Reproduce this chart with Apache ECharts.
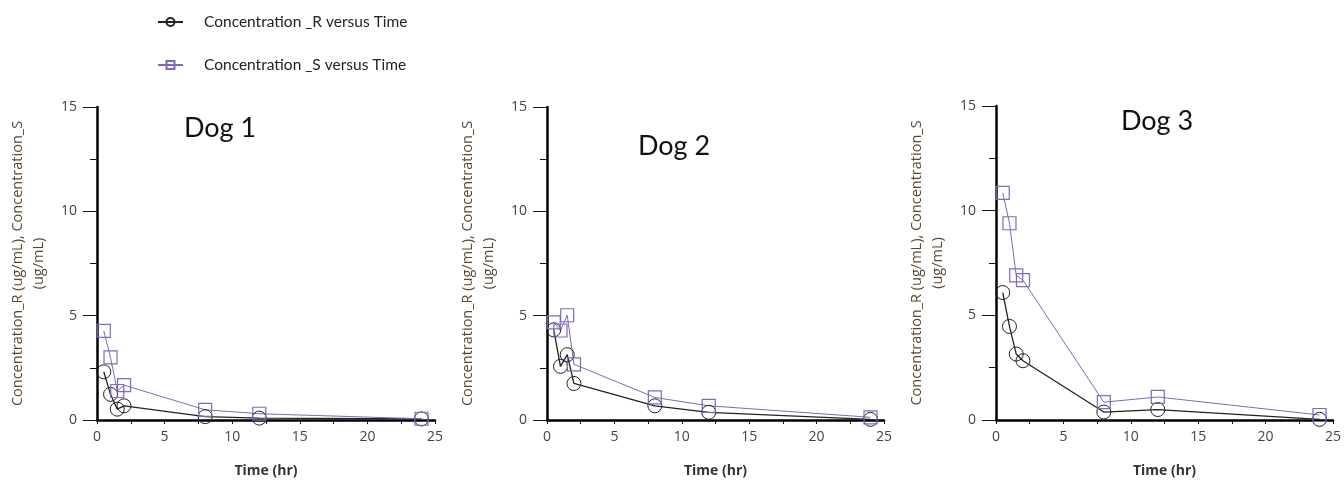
<!DOCTYPE html>
<html>
<head>
<meta charset="utf-8">
<script src="https://cdn.jsdelivr.net/npm/echarts@6/dist/echarts.min.js"></script>
<style>
  html, body { margin: 0; padding: 0; background: #fff; }
  #chart { width: 1344px; height: 483px; }
</style>
</head>
<body>
<div id="chart"></div>
<script>
// sampling times (hr)
const times = [0.5, 1, 1.5, 2, 8, 12, 24];

// concentrations (ug/mL)
const dog1R = [2.31, 1.23, 0.52, 0.68, 0.16, 0.09, 0.05];
const dog1S = [4.27, 3.0, 1.39, 1.67, 0.49, 0.3, 0.06];
const dog2R = [4.32, 2.57, 3.13, 1.75, 0.68, 0.37, 0.03];
const dog2S = [4.68, 4.29, 5.02, 2.67, 1.08, 0.68, 0.13];
const dog3R = [6.09, 4.47, 3.15, 2.83, 0.38, 0.5, 0.03];
const dog3S = [10.85, 9.4, 6.91, 6.68, 0.85, 1.1, 0.24];

const dogTitles = ["Dog 1", "Dog 2", "Dog 3"];
const seriesNames = ["Concentration _R versus Time", "Concentration _S versus Time"];
const yTicks = [0, 5, 10, 15];
const xTicks = [0, 5, 10, 15, 20, 25];

const colorR = "#222222";
const colorS = "#8068bd";
const axisFont = "'Open Sans', sans-serif";

// pixel boxes of the three plot areas
const grids = [
    { left: 97, top: 107, width: 338, height: 317 },
    { left: 547, top: 107, width: 337, height: 316 },
    { left: 996, top: 106, width: 337, height: 318 },
];
const titlePos = [
    { left: 184, top: 115 },
    { left: 638, top: 133 },
    { left: 1121, top: 108 },
];

const pairs = (xs, ys) => xs.map((x, i) => [x, ys[i]]);
const dogData = [
    [dog1R, dog1S],
    [dog2R, dog2S],
    [dog3R, dog3S],
];

const xAxes = grids.map((g, i) => ({
    type: "value",
    gridIndex: i,
    min: xTicks[0],
    max: xTicks[xTicks.length - 1],
    interval: 5,
    name: "Time (hr)",
    nameLocation: "middle",
    nameGap: 44,
    nameTextStyle: { fontFamily: axisFont, fontSize: 14, fontWeight: "bold", color: "#333" },
    axisLine: { lineStyle: { color: "#000", width: 2.5 } },
    axisTick: { length: 4, lineStyle: { color: "#111", width: 1 } },
    minorTick: { show: true, splitNumber: 2, length: 4, lineStyle: { color: "#111", width: 1 } },
    axisLabel: { fontFamily: axisFont, fontSize: 14, color: "#444", margin: 10 },
    splitLine: { show: false },
}));

const yAxes = grids.map((g, i) => ({
    type: "value",
    gridIndex: i,
    min: yTicks[0],
    max: yTicks[yTicks.length - 1],
    interval: 5,
    name: "Concentration_R (ug/mL), Concentration_S\n(ug/mL)",
    nameLocation: "middle",
    nameGap: 48,
    nameTextStyle: { fontFamily: axisFont, fontSize: 14.5, lineHeight: 21, color: "#5a4632", align: "center" },
    axisLine: { show: true, lineStyle: { color: "#000", width: 2.5 } },
    axisTick: { show: true, length: 14, lineStyle: { color: "#111", width: 1 } },
    minorTick: { show: true, splitNumber: 2, length: 7, lineStyle: { color: "#111", width: 1 } },
    axisLabel: { fontFamily: axisFont, fontSize: 14, color: "#444", margin: 20 },
    splitLine: { show: false },
}));

const series = [];
dogData.forEach((d, i) => {
    series.push({
        name: seriesNames[0],
        type: "line",
        xAxisIndex: i,
        yAxisIndex: i,
        data: pairs(times, d[0]),
        symbol: "circle",
        symbolSize: 14,
        lineStyle: { color: colorR, width: 1.3 },
        itemStyle: { color: "rgba(0,0,0,0)", borderColor: colorR, borderWidth: 1 },
    });
    series.push({
        name: seriesNames[1],
        type: "line",
        xAxisIndex: i,
        yAxisIndex: i,
        data: pairs(times, d[1]),
        symbol: "rect",
        symbolSize: 13,
        lineStyle: { color: colorS, width: 1 },
        itemStyle: { color: "rgba(0,0,0,0)", borderColor: colorS, borderWidth: 1.2 },
    });
});

const legendBase = {
    left: 152,
    orient: "vertical",
    itemWidth: 25,
    itemHeight: 10,
    selectedMode: false,
    textStyle: { fontFamily: "Lato, sans-serif", fontSize: 15.5, color: "#222", padding: [0, 0, 0, 16] },
};

const option = {
    animation: false,
    backgroundColor: "#fff",
    title: dogTitles.map((t, i) => ({
        text: t,
        left: titlePos[i].left,
        top: titlePos[i].top,
        padding: 0,
        textStyle: { fontFamily: "Lato, sans-serif", fontSize: 27, fontWeight: "normal", color: "#111" },
    })),
    legend: [
        Object.assign({}, legendBase, { top: 9, data: [seriesNames[0]] }),
        Object.assign({}, legendBase, { top: 52, data: [seriesNames[1]] }),
    ],
    grid: grids,
    xAxis: xAxes,
    yAxis: yAxes,
    series: series,
};

const chart = echarts.init(document.getElementById("chart"));
chart.setOption(option);
</script>
</body>
</html>
